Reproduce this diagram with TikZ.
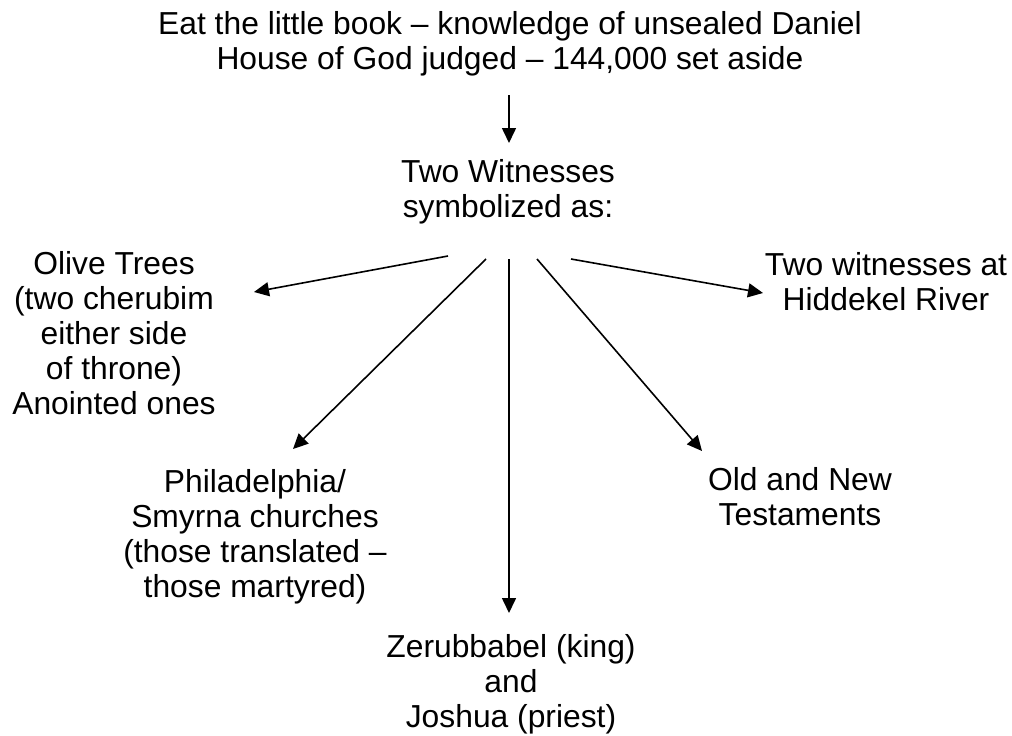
\documentclass[tikz,border=0pt]{standalone}
\usepackage{fontspec}
\setmainfont{Liberation Sans}
\usetikzlibrary{arrows.meta}

\begin{document}
\begin{tikzpicture}[
  x=1pt, y=-1pt,
  font=\fontsize{31.8}{35}\selectfont,
  label/.style={
    align=center,
    anchor=base,
    inner sep=0pt,
  },
  arrow/.style={
    line width=1.6pt,
    -{Triangle[length=15pt, width=14pt]},
  }
]
  \useasboundingbox (0,0) rectangle (1012,736);

  % Title (placed at the baseline of its last line)
  \node[label] (book) at (510, 69) {Eat the little book -- knowledge of unsealed Daniel\\House of God judged -- 144,000 set aside};

  % Two Witnesses
  \node[label] (wit) at (508, 217) {Two Witnesses\\symbolized as:};

  % Symbols
  \node[label] (olive) at (114, 414) {Olive Trees\\(two cherubim\\either side\\of throne)\\Anointed ones};
  \node[label] (river) at (886, 310) {Two witnesses at\\Hiddekel River};
  \node[label] (church) at (255, 597) {Philadelphia/\\Smyrna churches\\(those translated --\\those martyred)};
  \node[label] (testament) at (800, 525) {Old and New\\Testaments};
  \node[label] (zerub) at (511, 727) {Zerubbabel (king)\\and\\Joshua (priest)};

  % Arrow ends
  \coordinate (book-out) at (509, 95);
  \coordinate (wit-in) at (509, 143);
  \coordinate (olive-out) at (448, 256);
  \coordinate (olive-in) at (254, 292);
  \coordinate (church-out) at (486, 259);
  \coordinate (church-in) at (293, 449);
  \coordinate (zerub-out) at (509, 259);
  \coordinate (zerub-in) at (509, 613);
  \coordinate (testament-out) at (537, 259);
  \coordinate (testament-in) at (702, 451);
  \coordinate (river-out) at (571, 259);
  \coordinate (river-in) at (763, 293);

  % Arrows
  \draw[arrow] (book-out) -- (wit-in);
  \draw[arrow] (olive-out) -- (olive-in);
  \draw[arrow] (church-out) -- (church-in);
  \draw[arrow] (zerub-out) -- (zerub-in);
  \draw[arrow] (testament-out) -- (testament-in);
  \draw[arrow] (river-out) -- (river-in);

\end{tikzpicture}
\end{document}
